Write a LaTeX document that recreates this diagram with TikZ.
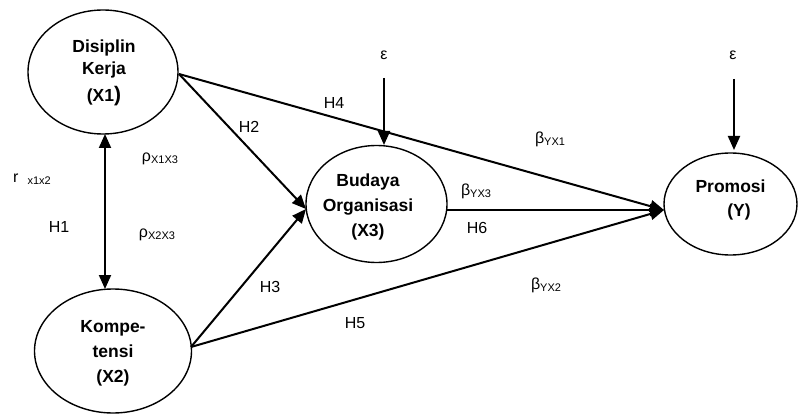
\documentclass[tikz,border=0pt]{standalone}
\usepackage{fontspec}
\setmainfont{Liberation Sans}
\usetikzlibrary{arrows.meta,shapes.geometric}
\newcommand{\lsub}[1]{\raisebox{-2pt}{\fontsize{11}{11}\selectfont #1}}
\begin{document}
\begin{tikzpicture}[x=1pt,y=-1pt,
  latent/.style={draw,line width=1.4pt,ellipse,inner sep=0pt},
  vtext/.style={align=center,font=\fontsize{17.5}{25}\selectfont\bfseries},
  lbl/.style={font=\fontsize{16}{18}\selectfont,inner sep=0pt},
  path/.style={line width=2pt,-{Triangle[length=14pt,width=12pt]}},
  bipath/.style={line width=2pt,{Triangle[length=14pt,width=12pt]}-{Triangle[length=14pt,width=12pt]}}]
\useasboundingbox (0,0) rectangle (798,414);
% latent variables
\node[latent,minimum width=150pt,minimum height=124pt] (X1) at (103,72) {};
\node[latent,minimum width=157pt,minimum height=124pt] (X2) at (113,351) {};
\node[latent,minimum width=141pt,minimum height=117pt] (X3) at (376.5,204) {};
\node[latent,minimum width=133pt,minimum height=102pt] (Y) at (730.5,204) {};
% texts
\node[vtext] (t1) at (104,73) {Disiplin\\[-3pt]Kerja\\[2pt](X1{\fontsize{21}{21}\selectfont)}};
\node[vtext] (t2) at (113,353) {Kompe-\\tensi\\(X2)};
\node[vtext] (t3) at (368,207) {Budaya\\Organisasi\\(X3)};
\node[vtext,anchor=west] (t4a) at (692,186) {Promosi};
\node[vtext] (t4b) at (739,212) {(Y)};
% error terms
\node[lbl] (e1) at (384,55) {ε};
\node[lbl] (e2) at (733,55) {ε};
\coordinate (e1s) at (384,78);
\coordinate (e2s) at (734,79);
\coordinate (x3e) at (384,145);
\coordinate (ye) at (734,150);
\draw[path] (e1s) -- (x3e);
\draw[path] (e2s) -- (ye);
% anchors
\coordinate (x1o) at (179,74);
\coordinate (x2o) at (191,347);
\coordinate (x3i) at (306,209);
\coordinate (x3o) at (447,210);
\coordinate (yi) at (664,210);
\coordinate (x1b) at (105,134);
\coordinate (x2t) at (105,289);
% paths
\draw[bipath] (x1b) -- (x2t);
\draw[path] (x1o) -- (x3i);
\draw[path] (x2o) -- (x3i);
\draw[path] (x1o) -- (yi);
\draw[path] (x2o) -- (yi);
\draw[path] (x3o) -- (yi);
% labels
\node[lbl,anchor=west] (r12) at (13,179) {r\hspace{9pt}\lsub{x1x2}};
\node[lbl] (h1) at (59,227) {H1};
\node[lbl] (p13) at (160,159) {ρ\lsub{X1X3}};
\node[lbl] (p23) at (157,235) {ρ\lsub{X2X3}};
\node[lbl] (h2) at (249,127) {H2};
\node[lbl] (h4) at (334,103) {H4};
\node[lbl] (h3) at (270,287) {H3};
\node[lbl] (h5) at (355,323) {H5};
\node[lbl] (h6) at (477,228) {H6};
\node[lbl] (b1) at (550,139) {β\lsub{YX1}};
\node[lbl] (b3) at (476,191) {β\lsub{YX3}};
\node[lbl] (b2) at (546,285) {β\lsub{YX2}};
\end{tikzpicture}
\end{document}
